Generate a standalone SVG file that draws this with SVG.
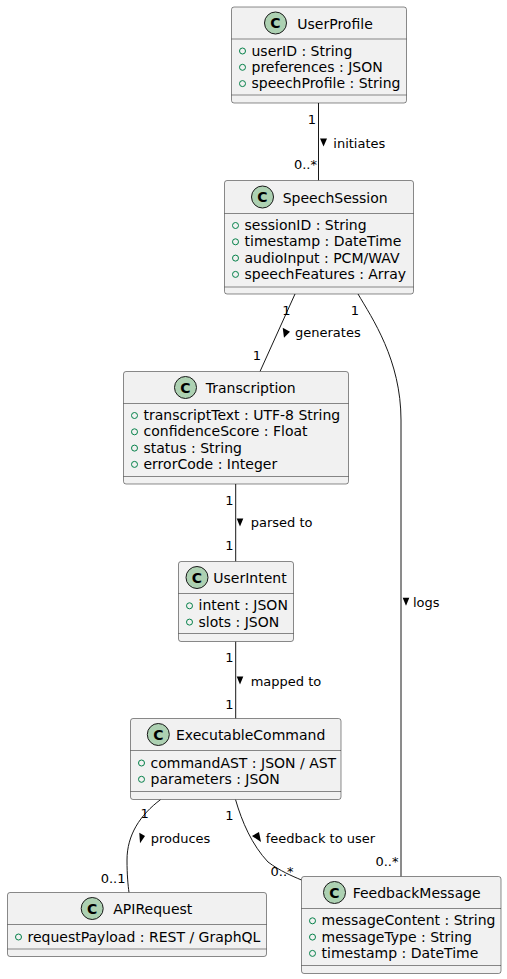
<svg xmlns="http://www.w3.org/2000/svg" width="507" height="979" viewBox="0 0 507 979">
<style>
.box{fill:#F1F1F1;stroke:#181818;stroke-width:0.5}
.sep{stroke:#181818;stroke-width:0.5}
.ci{fill:#ADD1B2;stroke:#181818;stroke-width:1}
.cl{font-family:"DejaVu Sans",sans-serif;font-size:14px;font-weight:bold;fill:#000;text-anchor:middle}
.t{font-family:"DejaVu Sans",sans-serif;font-size:14px;fill:#000}
.v{fill:none;stroke:#038048;stroke-width:1}
.e{fill:none;stroke:#181818;stroke-width:1}
.l{font-family:"DejaVu Sans",sans-serif;font-size:13px;fill:#000}
.r{text-anchor:end}
.tri{fill:#000}
</style>
<rect width="507" height="979" fill="#FFFFFF"/>
<g id="connectors">
<path class="e" d="M318.5,103 L318.5,180.5"/>
<path class="e" d="M295,294 L260,371.5"/>
<path class="e" d="M358,294 C372,318 401,360 401,420 L401,876.5"/>
<path class="e" d="M235.7,484 L235.7,561.5"/>
<path class="e" d="M235.7,641.5 L235.7,718.5"/>
<path class="e" d="M160.7,799.5 C140,815 127,835 127,860 C127,875 128,885 129,892.5"/>
<path class="e" d="M235.5,799.5 C242,822 252,845 268,862 C280,871 292,876 301.5,880"/>
<text class="l r" x="316" y="123.5">1</text>
<polygon class="tri" points="320,138.5 327,138.5 323.5,146.5"/>
<text class="l" x="333.3" y="147.5">initiates</text>
<text class="l r" x="317" y="168.5">0..*</text>
<text class="l r" x="290.5" y="314.5">1</text>
<polygon class="tri" points="282.7,327.7 290,331.7 284,337.7"/>
<text class="l" x="295" y="337">generates</text>
<text class="l r" x="261" y="360">1</text>
<text class="l r" x="359" y="314.5">1</text>
<polygon class="tri" points="402.7,597.7 409.3,597.7 406,605.7"/>
<text class="l" x="413" y="606.5">logs</text>
<text class="l r" x="398.5" y="866">0..*</text>
<text class="l r" x="233.5" y="504.5">1</text>
<polygon class="tri" points="236.7,518.5 243.3,518.5 240,526.5"/>
<text class="l" x="250.7" y="527">parsed to</text>
<text class="l r" x="233.5" y="550">1</text>
<text class="l r" x="233.5" y="662">1</text>
<polygon class="tri" points="236.7,676.5 243.3,676.5 240,684.5"/>
<text class="l" x="250.7" y="685.5">mapped to</text>
<text class="l r" x="233.5" y="708.5">1</text>
<text class="l" x="140.5" y="817.5">1</text>
<polygon class="tri" points="139.3,832.7 145,836 140,843.3"/>
<text class="l" x="150.7" y="842.5">produces</text>
<text class="l r" x="125.5" y="882.5">0..1</text>
<text class="l r" x="233.5" y="819.5">1</text>
<polygon class="tri" points="252,836 259,832 261,842"/>
<text class="l" x="265.7" y="842.5">feedback to user</text>
<text class="l" x="270.5" y="876">0..*</text>
</g>
<g id="UserProfile">
<rect class="box" x="231.5" y="7" width="175" height="96" rx="2.5"/>
<line class="sep" x1="231.5" y1="39" x2="406.5" y2="39"/>
<line class="sep" x1="231.5" y1="95" x2="406.5" y2="95"/>
<circle class="ci" cx="275.5" cy="23" r="11"/>
<text class="cl" x="275.5" y="28">C</text>
<text class="t" x="297.3" y="28.5">UserProfile</text>
<circle class="v" cx="242.5" cy="51" r="3"/><text class="t" x="251.5" y="55.5">userID : String</text>
<circle class="v" cx="242.5" cy="67.3" r="3"/><text class="t" x="251.5" y="71.8">preferences : JSON</text>
<circle class="v" cx="242.5" cy="83.6" r="3"/><text class="t" x="251.5" y="88.1">speechProfile : String</text>
</g>
<g id="SpeechSession">
<rect class="box" x="224.5" y="180.5" width="189" height="113.5" rx="2.5"/>
<line class="sep" x1="224.5" y1="213.5" x2="413.5" y2="213.5"/>
<line class="sep" x1="224.5" y1="287" x2="413.5" y2="287"/>
<circle class="ci" cx="262.5" cy="197" r="11"/>
<text class="cl" x="262.5" y="202">C</text>
<text class="t" x="282.7" y="202.5">SpeechSession</text>
<circle class="v" cx="235.5" cy="225.5" r="3"/><text class="t" x="244.5" y="230">sessionID : String</text>
<circle class="v" cx="235.5" cy="241.8" r="3"/><text class="t" x="244.5" y="246.3">timestamp : DateTime</text>
<circle class="v" cx="235.5" cy="258.1" r="3"/><text class="t" x="244.5" y="262.6">audioInput : PCM/WAV</text>
<circle class="v" cx="235.5" cy="274.4" r="3"/><text class="t" x="244.5" y="278.9">speechFeatures : Array</text>
</g>
<g id="Transcription">
<rect class="box" x="123.5" y="371.5" width="225" height="112.5" rx="2.5"/>
<line class="sep" x1="123.5" y1="403.5" x2="348.5" y2="403.5"/>
<line class="sep" x1="123.5" y1="476.5" x2="348.5" y2="476.5"/>
<circle class="ci" cx="185.5" cy="387.5" r="11"/>
<text class="cl" x="185.5" y="392.5">C</text>
<text class="t" x="205.7" y="393">Transcription</text>
<circle class="v" cx="134.5" cy="415.5" r="3"/><text class="t" x="143.5" y="420">transcriptText : UTF-8 String</text>
<circle class="v" cx="134.5" cy="431.8" r="3"/><text class="t" x="143.5" y="436.3">confidenceScore : Float</text>
<circle class="v" cx="134.5" cy="448.1" r="3"/><text class="t" x="143.5" y="452.6">status : String</text>
<circle class="v" cx="134.5" cy="464.4" r="3"/><text class="t" x="143.5" y="468.9">errorCode : Integer</text>
</g>
<g id="UserIntent">
<rect class="box" x="178.5" y="561.5" width="115" height="80" rx="2.5"/>
<line class="sep" x1="178.5" y1="593.5" x2="293.5" y2="593.5"/>
<line class="sep" x1="178.5" y1="633.5" x2="293.5" y2="633.5"/>
<circle class="ci" cx="197" cy="577.5" r="11"/>
<text class="cl" x="197" y="582.5">C</text>
<text class="t" x="213.3" y="583">UserIntent</text>
<circle class="v" cx="189.5" cy="605.8" r="3"/><text class="t" x="198.5" y="610.3">intent : JSON</text>
<circle class="v" cx="189.5" cy="622.1" r="3"/><text class="t" x="198.5" y="626.6">slots : JSON</text>
</g>
<g id="ExecutableCommand">
<rect class="box" x="130.5" y="718.5" width="210.5" height="81" rx="2.5"/>
<line class="sep" x1="130.5" y1="750.5" x2="341" y2="750.5"/>
<line class="sep" x1="130.5" y1="791.5" x2="341" y2="791.5"/>
<circle class="ci" cx="158.3" cy="734.5" r="11"/>
<text class="cl" x="158.3" y="739.5">C</text>
<text class="t" x="176" y="740">ExecutableCommand</text>
<circle class="v" cx="141.5" cy="763" r="3"/><text class="t" x="150.5" y="767.5">commandAST : JSON / AST</text>
<circle class="v" cx="141.5" cy="779.3" r="3"/><text class="t" x="150.5" y="783.8">parameters : JSON</text>
</g>
<g id="APIRequest">
<rect class="box" x="7.5" y="892.5" width="259" height="64" rx="2.5"/>
<line class="sep" x1="7.5" y1="924.5" x2="266.5" y2="924.5"/>
<line class="sep" x1="7.5" y1="949" x2="266.5" y2="949"/>
<circle class="ci" cx="92.2" cy="908.5" r="11"/>
<text class="cl" x="92.2" y="913.5">C</text>
<text class="t" x="113.3" y="914">APIRequest</text>
<circle class="v" cx="18.5" cy="937" r="3"/><text class="t" x="27.5" y="941.5">requestPayload : REST / GraphQL</text>
</g>
<g id="FeedbackMessage">
<rect class="box" x="301.5" y="876.5" width="199.5" height="97" rx="2.5"/>
<line class="sep" x1="301.5" y1="908.5" x2="501" y2="908.5"/>
<line class="sep" x1="301.5" y1="965.5" x2="501" y2="965.5"/>
<circle class="ci" cx="334.5" cy="892.5" r="11"/>
<text class="cl" x="334.5" y="897.5">C</text>
<text class="t" x="352.7" y="898">FeedbackMessage</text>
<circle class="v" cx="312.5" cy="920.8" r="3"/><text class="t" x="321.5" y="925.3">messageContent : String</text>
<circle class="v" cx="312.5" cy="937.1" r="3"/><text class="t" x="321.5" y="941.6">messageType : String</text>
<circle class="v" cx="312.5" cy="953.4" r="3"/><text class="t" x="321.5" y="957.9">timestamp : DateTime</text>
</g>
</svg>
